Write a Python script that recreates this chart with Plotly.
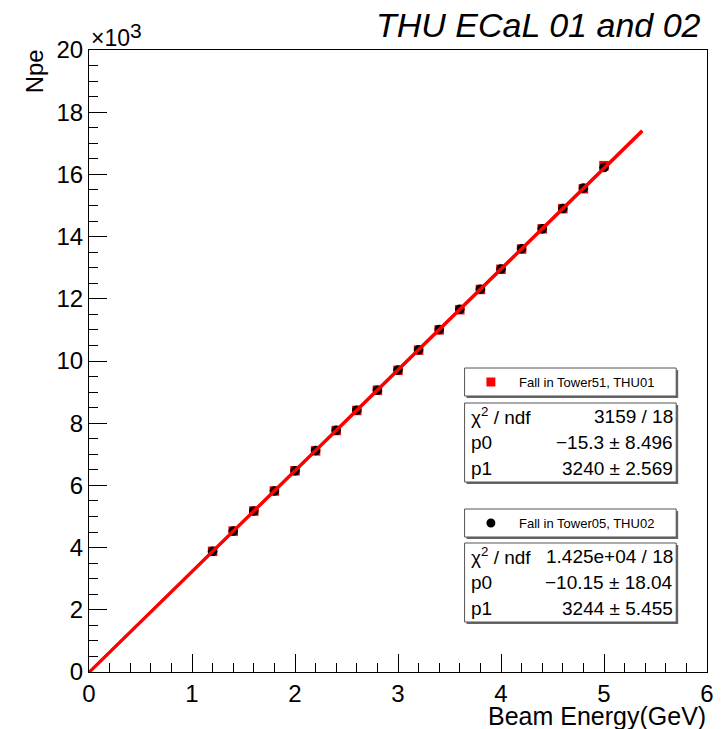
import plotly.graph_objects as go

# ---- data ----
energy = [1.2, 1.4, 1.6, 1.8, 2.0, 2.2, 2.4, 2.6, 2.8, 3.0,
          3.2, 3.4, 3.6, 3.8, 4.0, 4.2, 4.4, 4.6, 4.8, 5.0]
npe_thu01 = [3880, 4530, 5175, 5820, 6470, 7110, 7765, 8410, 9060, 9700,
             10350, 11000, 11650, 12300, 12950, 13600, 14250, 14900, 15540, 16280]
npe_thu02 = [3880, 4530, 5180, 5820, 6470, 7120, 7770, 8420, 9060, 9710,
             10360, 11010, 11660, 12310, 12960, 13610, 14250, 14900, 15560, 16220]
fit_range = [0.0, 5.37]
fit01 = {"p0": -15.3, "p1": 3240}
fit02 = {"p0": -10.15, "p1": 3244}
ytick_vals = [0, 2000, 4000, 6000, 8000, 10000, 12000, 14000, 16000, 18000, 20000]
ytick_text = ["0", "2", "4", "6", "8", "10", "12", "14", "16", "18", "20"]
xtick_vals = [0, 1, 2, 3, 4, 5, 6]

stats01 = [("χ<sup>2</sup> / ndf", "3159 / 18"),
           ("p0", "−15.3 ± 8.496"),
           ("p1", "3240 ± 2.569")]
stats02 = [("χ<sup>2</sup> / ndf", "1.425e+04 / 18"),
           ("p0", "−10.15 ± 18.04"),
           ("p1", "3244 ± 5.455")]
label01 = "Fall in Tower51, THU01"
label02 = "Fall in Tower05, THU02"

# ---- layout geometry (pixels) ----
W, H = 726, 729
L, R, T, B = 89, 711, 50, 672
FONT = "Liberation Sans, Arial, sans-serif"

def px(X):
    return (X - L) / (R - L)

def py(Y):
    return (B - Y) / (B - T)

fig = go.Figure()

fig.add_trace(go.Scatter(x=energy, y=npe_thu01, mode="markers",
                         marker=dict(symbol="square", size=9.5, color="#ff0000",
                                     line=dict(width=0)),
                         showlegend=False, hoverinfo="x+y"))
fig.add_trace(go.Scatter(x=energy, y=npe_thu02, mode="markers",
                         marker=dict(symbol="circle", size=9.5, color="#000000",
                                     line=dict(width=0)),
                         showlegend=False, hoverinfo="x+y"))
for f in (fit02, fit01):
    fx = fit_range
    fy = [f["p0"] + f["p1"] * v for v in fx]
    fig.add_trace(go.Scatter(x=fx, y=fy, mode="lines",
                             line=dict(color="#ff0000", width=3),
                             showlegend=False, hoverinfo="skip"))

shapes = []
annotations = []

def box(x0, y0, x1, y1):
    # shadow
    shapes.append(dict(type="rect", xref="paper", yref="paper",
                       x0=px(x0 + 2), x1=px(x1 + 2), y0=py(y1 + 2), y1=py(y0 + 2),
                       line=dict(width=0), fillcolor="#666666", layer="above"))
    shapes.append(dict(type="rect", xref="paper", yref="paper",
                       x0=px(x0), x1=px(x1), y0=py(y1), y1=py(y0),
                       line=dict(color="#555555", width=1), fillcolor="white",
                       layer="above"))

def legend_box(y0, y1, label, symbol, color):
    box(467, y0, 680, y1)
    yc = (y0 + y1) / 2
    shapes.append(dict(type="rect" if symbol == "square" else "circle",
                       xref="paper", yref="paper",
                       x0=px(489), x1=px(498), y0=py(yc + 4.5), y1=py(yc - 4.5),
                       line=dict(width=0), fillcolor=color, layer="above"))
    annotations.append(dict(xref="paper", yref="paper", x=px(520), y=py(yc),
                            xanchor="left", yanchor="middle", showarrow=False,
                            text=label, font=dict(family=FONT, size=13, color="black")))

def stats_box(y0, y1, rows):
    box(467, y0, 680, y1)
    n = len(rows)
    step = (y1 - y0) / n
    for i, (k, v) in enumerate(rows):
        yc = y0 + step * (i + 0.5)
        annotations.append(dict(xref="paper", yref="paper", x=px(471), y=py(yc),
                                xanchor="left", yanchor="middle", showarrow=False,
                                text=k, font=dict(family=FONT, size=19, color="black")))
        annotations.append(dict(xref="paper", yref="paper", x=px(679), y=py(yc),
                                xanchor="right", yanchor="middle", showarrow=False,
                                text=v, font=dict(family=FONT, size=19, color="black")))

legend_box(368, 396, label01, "square", "#ff0000")
stats_box(403, 482, stats01)
legend_box(509, 537, label02, "circle", "#000000")
stats_box(543, 622, stats02)

# title, axis titles, exponent label
annotations.append(dict(xref="paper", yref="paper", x=px(707), y=py(25),
                        xanchor="right", yanchor="middle", showarrow=False,
                        text="<i>THU ECaL 01 and 02</i>",
                        font=dict(family=FONT, size=34, color="black")))
annotations.append(dict(xref="paper", yref="paper", x=px(34), y=py(71),
                        xanchor="center", yanchor="middle", showarrow=False,
                        textangle=-90, text="Npe",
                        font=dict(family=FONT, size=24, color="black")))
annotations.append(dict(xref="paper", yref="paper", x=px(712), y=py(716),
                        xanchor="right", yanchor="middle", showarrow=False,
                        text="Beam Energy(GeV)",
                        font=dict(family=FONT, size=25, color="black")))
annotations.append(dict(xref="paper", yref="paper", x=px(89), y=py(38),
                        xanchor="left", yanchor="middle", showarrow=False,
                        text="×10",
                        font=dict(family=FONT, size=23, color="black")))
annotations.append(dict(xref="paper", yref="paper", x=px(128), y=py(30),
                        xanchor="left", yanchor="middle", showarrow=False,
                        text="3",
                        font=dict(family=FONT, size=21, color="black")))

fig.update_layout(
    width=W, height=H,
    margin=dict(l=L, r=W - R, t=T, b=H - B, pad=0),
    paper_bgcolor="white", plot_bgcolor="white",
    font=dict(family=FONT, size=24, color="black"),
    shapes=shapes, annotations=annotations,
    xaxis=dict(range=[0, 6], tickvals=xtick_vals, ticks="inside", ticklen=18,
               tickwidth=1, tickcolor="black", showgrid=False, zeroline=False,
               showline=True, linecolor="black", linewidth=1, mirror=True,
               tickfont=dict(family=FONT, size=24),
               minor=dict(dtick=0.2, ticks="inside", ticklen=9, tickcolor="black",
                          tickwidth=1, showgrid=False)),
    yaxis=dict(range=[0, 20000], tickvals=ytick_vals, ticktext=ytick_text,
               ticks="inside", ticklen=18, tickwidth=1, tickcolor="black",
               showgrid=False, zeroline=False, showline=True, linecolor="black",
               linewidth=1, mirror=True, tickfont=dict(family=FONT, size=24),
               minor=dict(dtick=500, ticks="inside", ticklen=9, tickcolor="black",
                          tickwidth=1, showgrid=False)),
)

fig.write_html("out.html")
